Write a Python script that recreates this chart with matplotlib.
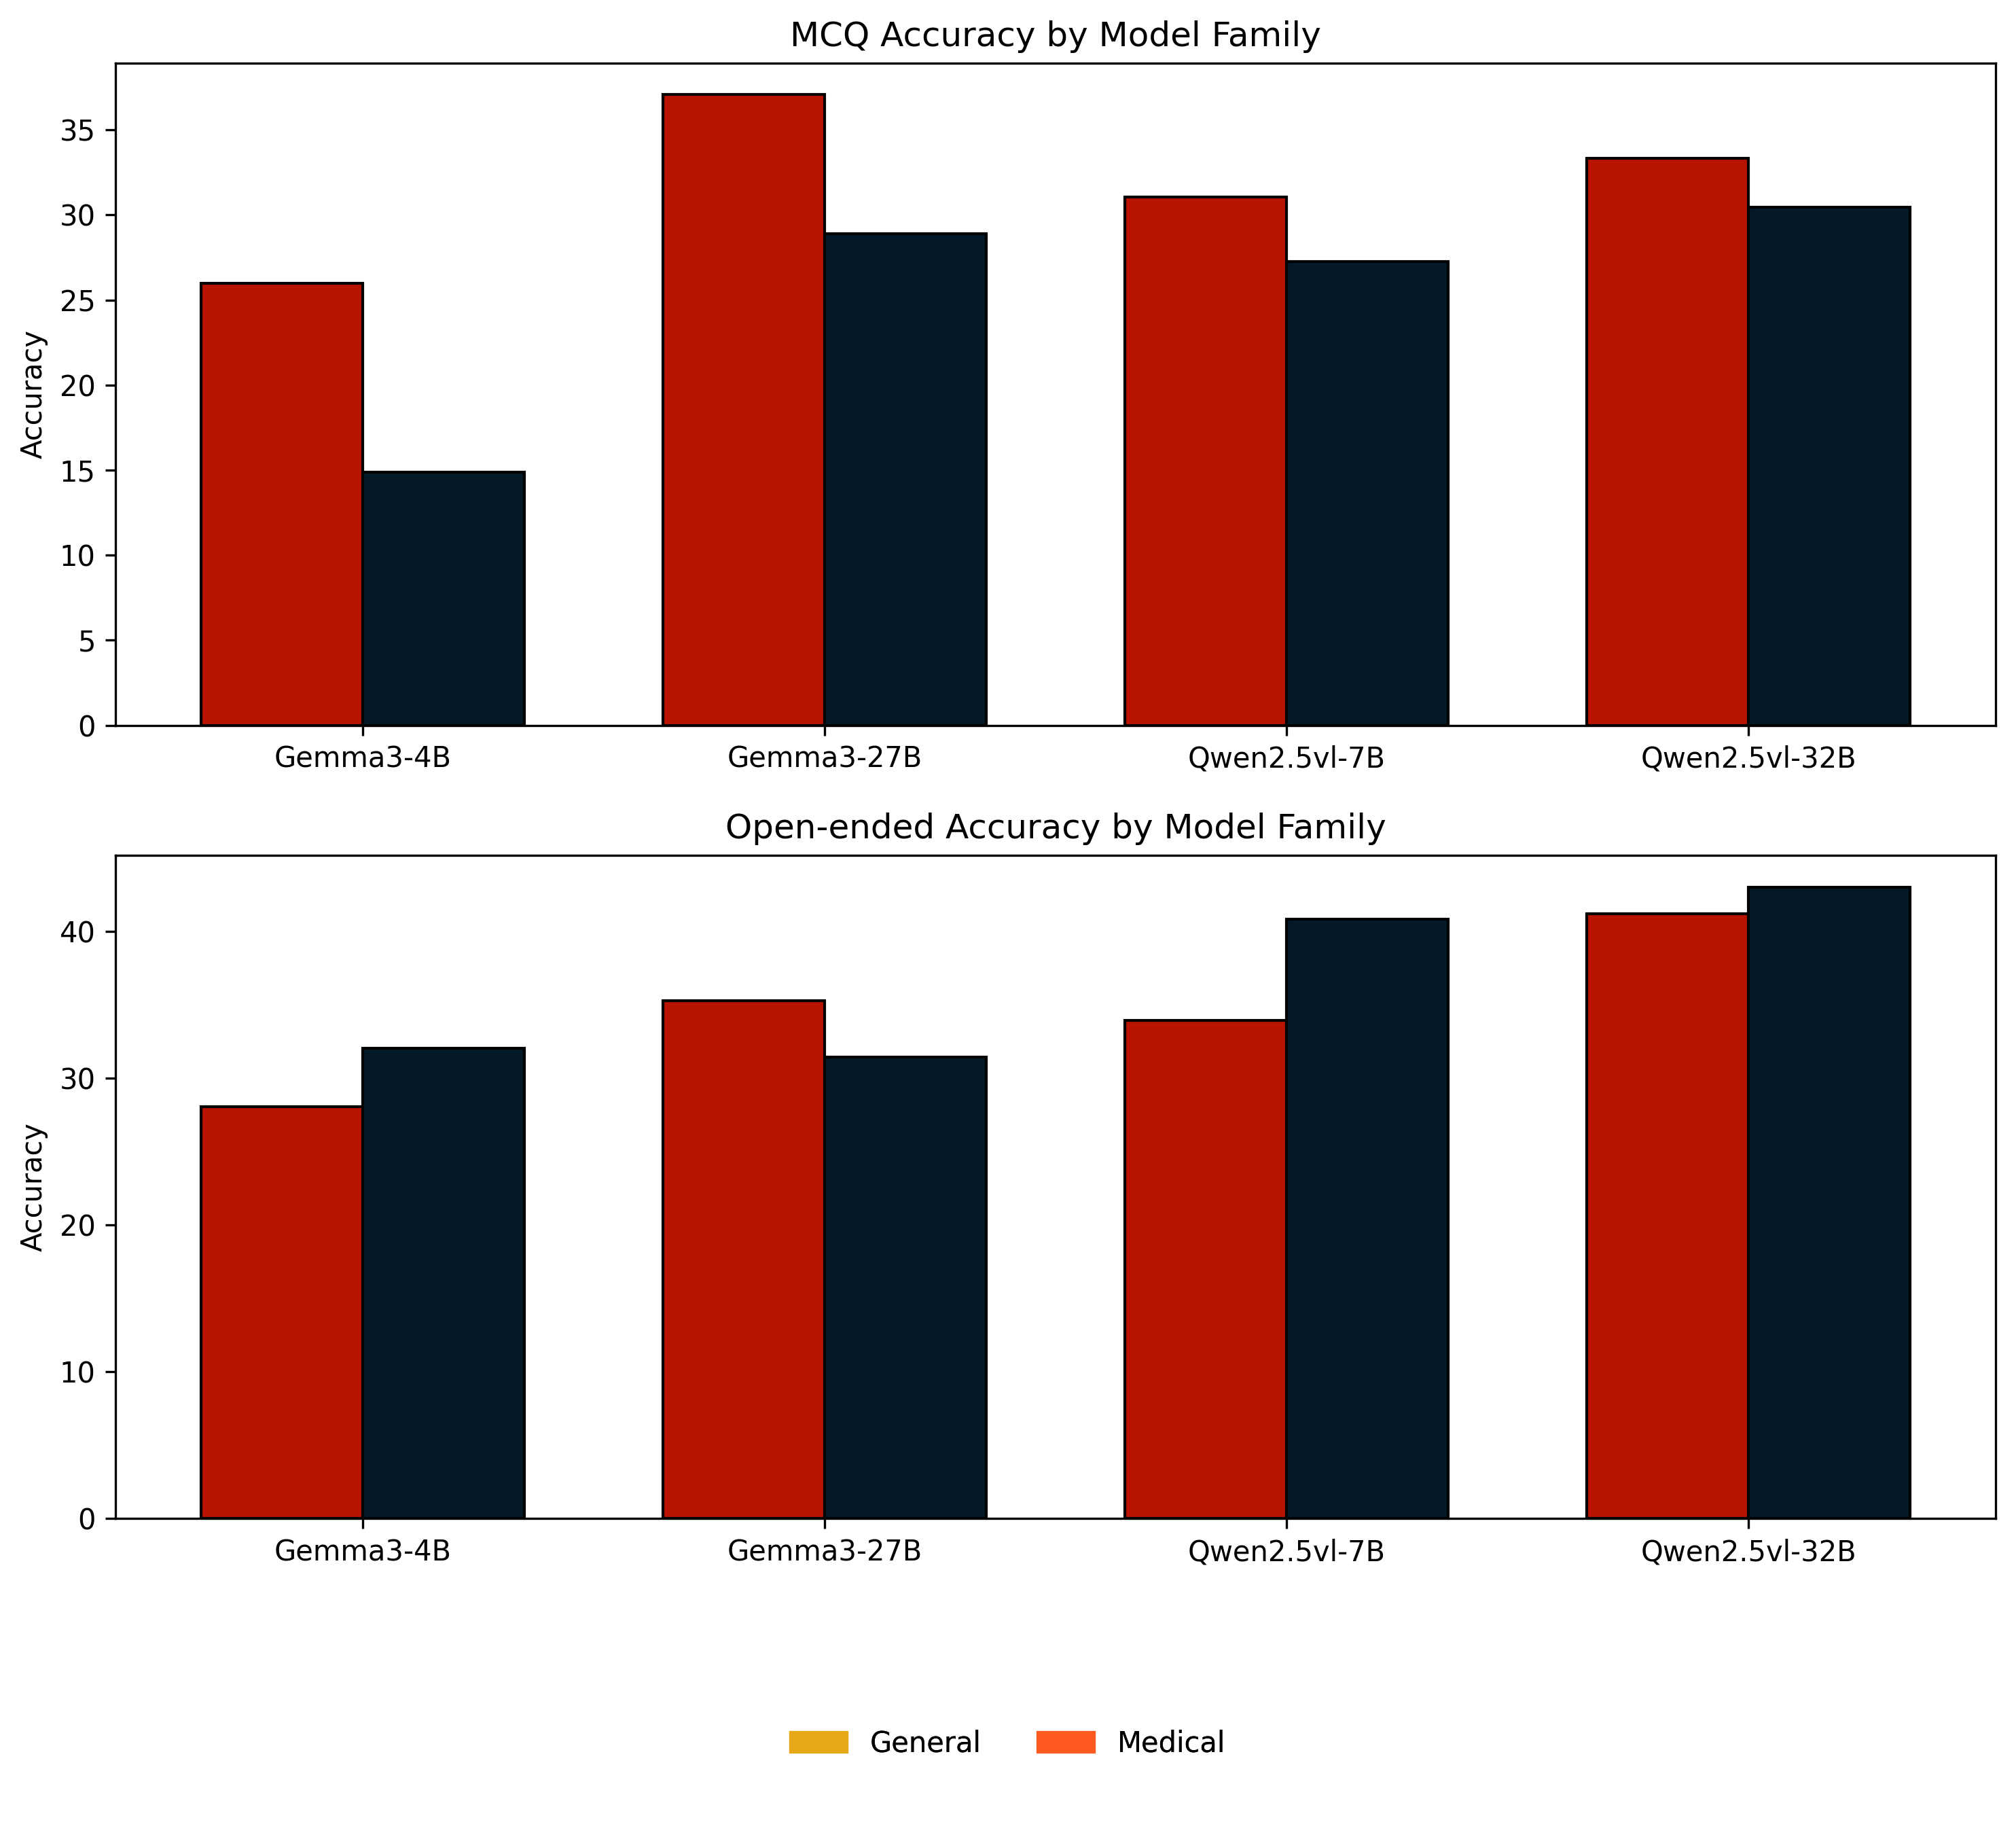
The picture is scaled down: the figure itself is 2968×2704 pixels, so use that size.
import matplotlib
matplotlib.use('Agg')
import matplotlib.pyplot as plt
import numpy as np
from matplotlib.patches import Patch

models = ['Gemma3-4B', 'Gemma3-27B', 'Qwen2.5vl-7B', 'Qwen2.5vl-32B']

# MCQ accuracy (left bar = red, right bar = navy)
mcq_left = [25.98, 37.07, 31.04, 33.34]
mcq_right = [14.88, 28.89, 27.25, 30.44]

# open-ended accuracy
open_left = [28.06, 35.27, 33.93, 41.19]
open_right = [32.04, 31.44, 40.84, 43.03]

legend_labels = ['General', 'Medical']

red = '#B91400'
navy = '#041927'
legend_colors = ['#E6A817', '#FF5A1F']

W, H = 2968, 2704
fig = plt.figure(figsize=(W / 300, H / 300), dpi=300)

ax1 = fig.add_axes([0.0573, 0.6052, 0.9326, 0.3604])
ax2 = fig.add_axes([0.0573, 0.1734, 0.9326, 0.3609])

x = np.arange(len(models))
w = 0.35

for ax, left, right, title in [(ax1, mcq_left, mcq_right, 'MCQ Accuracy by Model Family'),
                               (ax2, open_left, open_right, 'Open-ended Accuracy by Model Family')]:
    ax.bar(x - w / 2, left, w, color=red, edgecolor='black', linewidth=1.0)
    ax.bar(x + w / 2, right, w, color=navy, edgecolor='black', linewidth=1.0)
    ax.set_xticks(x)
    ax.set_xticklabels(models)
    ax.set_ylabel('Accuracy')
    ax.set_title(title)

handles = [Patch(color=c) for c in legend_colors]
# drawn twice, as in the original
for _ in range(2):
    fig.legend(handles, legend_labels, loc='center', bbox_to_anchor=(0.5, 0.0507),
               ncol=2, frameon=False)

fig.savefig('out.png', dpi=300)
